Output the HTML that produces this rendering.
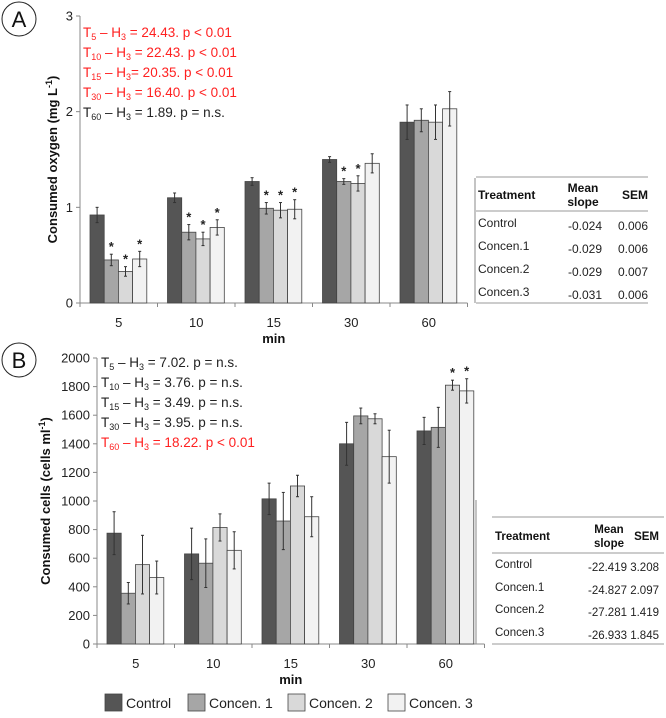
<!DOCTYPE html>
<html><head><meta charset="utf-8"><style>
body{margin:0;background:#fff}
svg text{font-family:"Liberation Sans",sans-serif}
</style></head><body>
<svg id="svg" width="666" height="713" viewBox="0 0 666 713" xmlns="http://www.w3.org/2000/svg"></svg>
<script>
const categories=["5","10","15","30","60"];
const seriesNames=["Control","Concen. 1","Concen. 2","Concen. 3"];
const colors=["#555555","#a6a6a6","#d9d9d9","#f2f2f2"];
const oxyValues=[[0.92,1.10,1.27,1.50,1.89],[0.45,0.74,0.99,1.27,1.91],[0.33,0.67,0.97,1.25,1.89],[0.46,0.79,0.98,1.46,2.03]];
const oxyErr=[[0.08,0.05,0.04,0.03,0.18],[0.06,0.08,0.06,0.03,0.12],[0.05,0.07,0.08,0.08,0.18],[0.08,0.08,0.10,0.10,0.18]];
const oxyStars=[[0,0,0,0,0],[1,1,1,1,0],[1,1,1,1,0],[1,1,1,0,0]];
const oxyTicks=[0,1,2,3];
const cellValues=[[775,630,1015,1400,1490],[355,565,860,1595,1515],[555,815,1105,1575,1810],[465,655,890,1310,1770]];
const cellErr=[[150,180,110,150,95],[75,170,200,55,140],[205,95,75,35,35],[115,130,140,185,85]];
const cellStars=[[0,0,0,0,0],[0,0,0,0,0],[0,0,0,0,1],[0,0,0,0,1]];
const cellTicks=[0,200,400,600,800,1000,1200,1400,1600,1800,2000];
const ns="http://www.w3.org/2000/svg";
const svg=document.getElementById("svg");
function el(t,a,p){const e=document.createElementNS(ns,t);for(const k in a)e.setAttribute(k,a[k]);(p||svg).appendChild(e);return e;}
function chart(o){
  const g=el("g",{});
  
  
  const y=v=>o.y0-(v/o.max)*(o.y0-o.yTop);
  const gw=77.5;
  const x0=o.x0;
  const ya=el("line",{x1:x0,y1:o.yTop,x2:x0,y2:o.y0,stroke:"#888","stroke-width":1},g);
  
  
  o.ticks.forEach(t=>{
    el("line",{x1:x0-4,y1:y(t),x2:x0,y2:y(t),stroke:"#888"},g);
    const tx=el("text",{x:x0-7,y:y(t)+4.5,"text-anchor":"end","font-size":13,fill:"#222"},g);
    tx.textContent=t;
    
    
  });
  const xa=el("line",{x1:x0,y1:o.y0,x2:x0+gw*5,y2:o.y0,stroke:"#888"},g);
  
  
  for(let i=0;i<=5;i++)el("line",{x1:x0+gw*i,y1:o.y0,x2:x0+gw*i,y2:o.y0+4,stroke:"#888"},g);
  categories.forEach((c,i)=>{
    const tx=el("text",{x:x0+gw*(i+0.5),y:o.y0+24,"text-anchor":"middle","font-size":13,fill:"#222"},g);
    tx.textContent=c;
    
    
    const bw=14.2, start=x0+gw*i+10;
    for(let s=0;s<4;s++){
      const v=o.vals[s][i], e=o.err[s][i], bx=start+bw*s;
      const r=el("rect",{x:bx,y:y(v),width:bw,height:o.y0-y(v),fill:colors[s],stroke:"#444","stroke-width":0.8},g);
      
      
      const cx=bx+bw/2;
      el("line",{x1:cx,y1:y(v+e),x2:cx,y2:y(v-e),stroke:"#333","stroke-width":1},g);
      el("line",{x1:cx-1.5,y1:y(v+e),x2:cx+1.5,y2:y(v+e),stroke:"#333"},g);
      el("line",{x1:cx-1.5,y1:y(v-e),x2:cx+1.5,y2:y(v-e),stroke:"#333"},g);
      if(o.stars[s][i]){
        const st=el("text",{x:cx,y:y(v+e)-3,"text-anchor":"middle","font-size":13,"font-weight":"bold",fill:"#222"},g);
        st.textContent="*";
        
        
      }
    }
  });
  const xt=el("text",{x:x0+gw*2.5,y:o.y0+40,"text-anchor":"middle","font-size":13,"font-weight":"bold",fill:"#111"},g);
  xt.textContent="min";
  
  
  const yt=el("text",{x:0,y:0,transform:`translate(${o.ytx},${(o.yTop+o.y0)/2}) rotate(-90)`,"text-anchor":"middle","font-size":13,"font-weight":"bold",fill:"#111"},g);
  yt.innerHTML=o.ytitle;
  
  
}
chart({name:"oxygen-chart",x0:80,yTop:16,y0:303,max:3,ticks:oxyTicks,vals:oxyValues,err:oxyErr,stars:oxyStars,ytx:57,ytitle:'Consumed oxygen (mg L<tspan dy="-5" font-size="9">-1</tspan><tspan dy="5">)</tspan>'});
chart({name:"cells-chart",x0:97,yTop:358,y0:644,max:2000,ticks:cellTicks,vals:cellValues,err:cellErr,stars:cellStars,ytx:50,ytitle:'Consumed cells (cells  ml<tspan dy="-5" font-size="9">-1</tspan><tspan dy="5">)</tspan>'});
function ann(x,y,sub,rest,red){
  const t=el("text",{x:x,y:y,"font-size":13.5,fill:red?"#ff2020":"#222"});
  t.innerHTML=`T<tspan dy="3" font-size="9">${sub}</tspan><tspan dy="-3"> – H</tspan><tspan dy="3" font-size="9">3</tspan><tspan dy="-3">${rest}</tspan>`;
  
  
}
ann(83,37,"5"," = 24.43. p &lt; 0.01",1);
ann(83,57,"10"," = 22.43. p &lt; 0.01",1);
ann(83,77,"15","= 20.35. p &lt; 0.01",1);
ann(83,97,"30"," = 16.40. p &lt; 0.01",1);
ann(83,117,"60"," = 1.89. p = n.s.",0);
ann(101,367,"5"," = 7.02. p = n.s.",0);
ann(101,387,"10"," = 3.76. p = n.s.",0);
ann(101,407,"15"," = 3.49. p = n.s.",0);
ann(101,427,"30"," = 3.95. p = n.s.",0);
ann(101,447,"60"," = 18.22. p &lt; 0.01",1);
[["A",19],["B",360]].forEach(([l,cy])=>{
  const c=el("circle",{cx:19,cy:cy,r:17,fill:"#fff",stroke:"#222","stroke-width":1});
  
  
  const t=el("text",{x:19,y:cy+8,"text-anchor":"middle","font-size":22,fill:"#111"});
  t.textContent=l;
  
  
});
el("line",{x1:475,y1:178,x2:475,y2:303,stroke:"#888"});
el("line",{x1:476,y1:500,x2:476,y2:644,stroke:"#888"});
const tA=[["Control","-0.024","0.006"],["Concen.1","-0.029","0.006"],["Concen.2","-0.029","0.007"],["Concen.3","-0.031","0.006"]];
const tB=[["Control","-22.419","3.208"],["Concen.1","-24.827","2.097"],["Concen.2","-27.281","1.419"],["Concen.3","-26.933","1.845"]];
function table(rows,x1,x2,top,hline,bot,tx,mx,sx,mc,rowY,name,fs){
  const g=el("g",{});
  
  
  [top,hline,bot].forEach(yy=>el("line",{x1:x1,y1:yy,x2:x2,y2:yy,stroke:"#999","stroke-width":1},g));
  const h=(x,y,s,a)=>{const t=el("text",{x:x,y:y,"font-size":fs,"font-weight":"bold","text-anchor":a,fill:"#111"},g);t.textContent=s;};
  const hm=(top+hline)/2;
  h(tx,hm+5,"Treatment","start");h(mc,hm-2,"Mean","middle");h(mc,hm+12,"slope","middle");h(sx,hm+5,"SEM","end");
  rows.forEach((r,i)=>{
    const yy=rowY[i];
    const a=el("text",{x:tx,y:yy,"font-size":fs,fill:"#222"},g);a.textContent=r[0];
    const b=el("text",{x:mx,y:yy+3,"font-size":fs,fill:"#222","text-anchor":"end"},g);b.textContent=r[1];
    const c=el("text",{x:sx,y:yy+3,"font-size":fs,fill:"#222","text-anchor":"end"},g);c.textContent=r[2];
  });
}
table(tA,476,648,177,211,303,478,602,648,583,[227,250,273,296],"slope-table-a",12);
table(tB,492,664,517,553,644,495,627,659,609,[568,591,613,636],"slope-table-b",11.5);
const lx=[105,188,288,388];
seriesNames.forEach((s,i)=>{
  const r=el("rect",{x:lx[i],y:694,width:17,height:17,fill:colors[i],stroke:"#444","stroke-width":0.8});
  
  
  const t=el("text",{x:lx[i]+21,y:708,"font-size":14,fill:"#222"});
  t.textContent=s;
  
  
});
</script>
</body></html>
